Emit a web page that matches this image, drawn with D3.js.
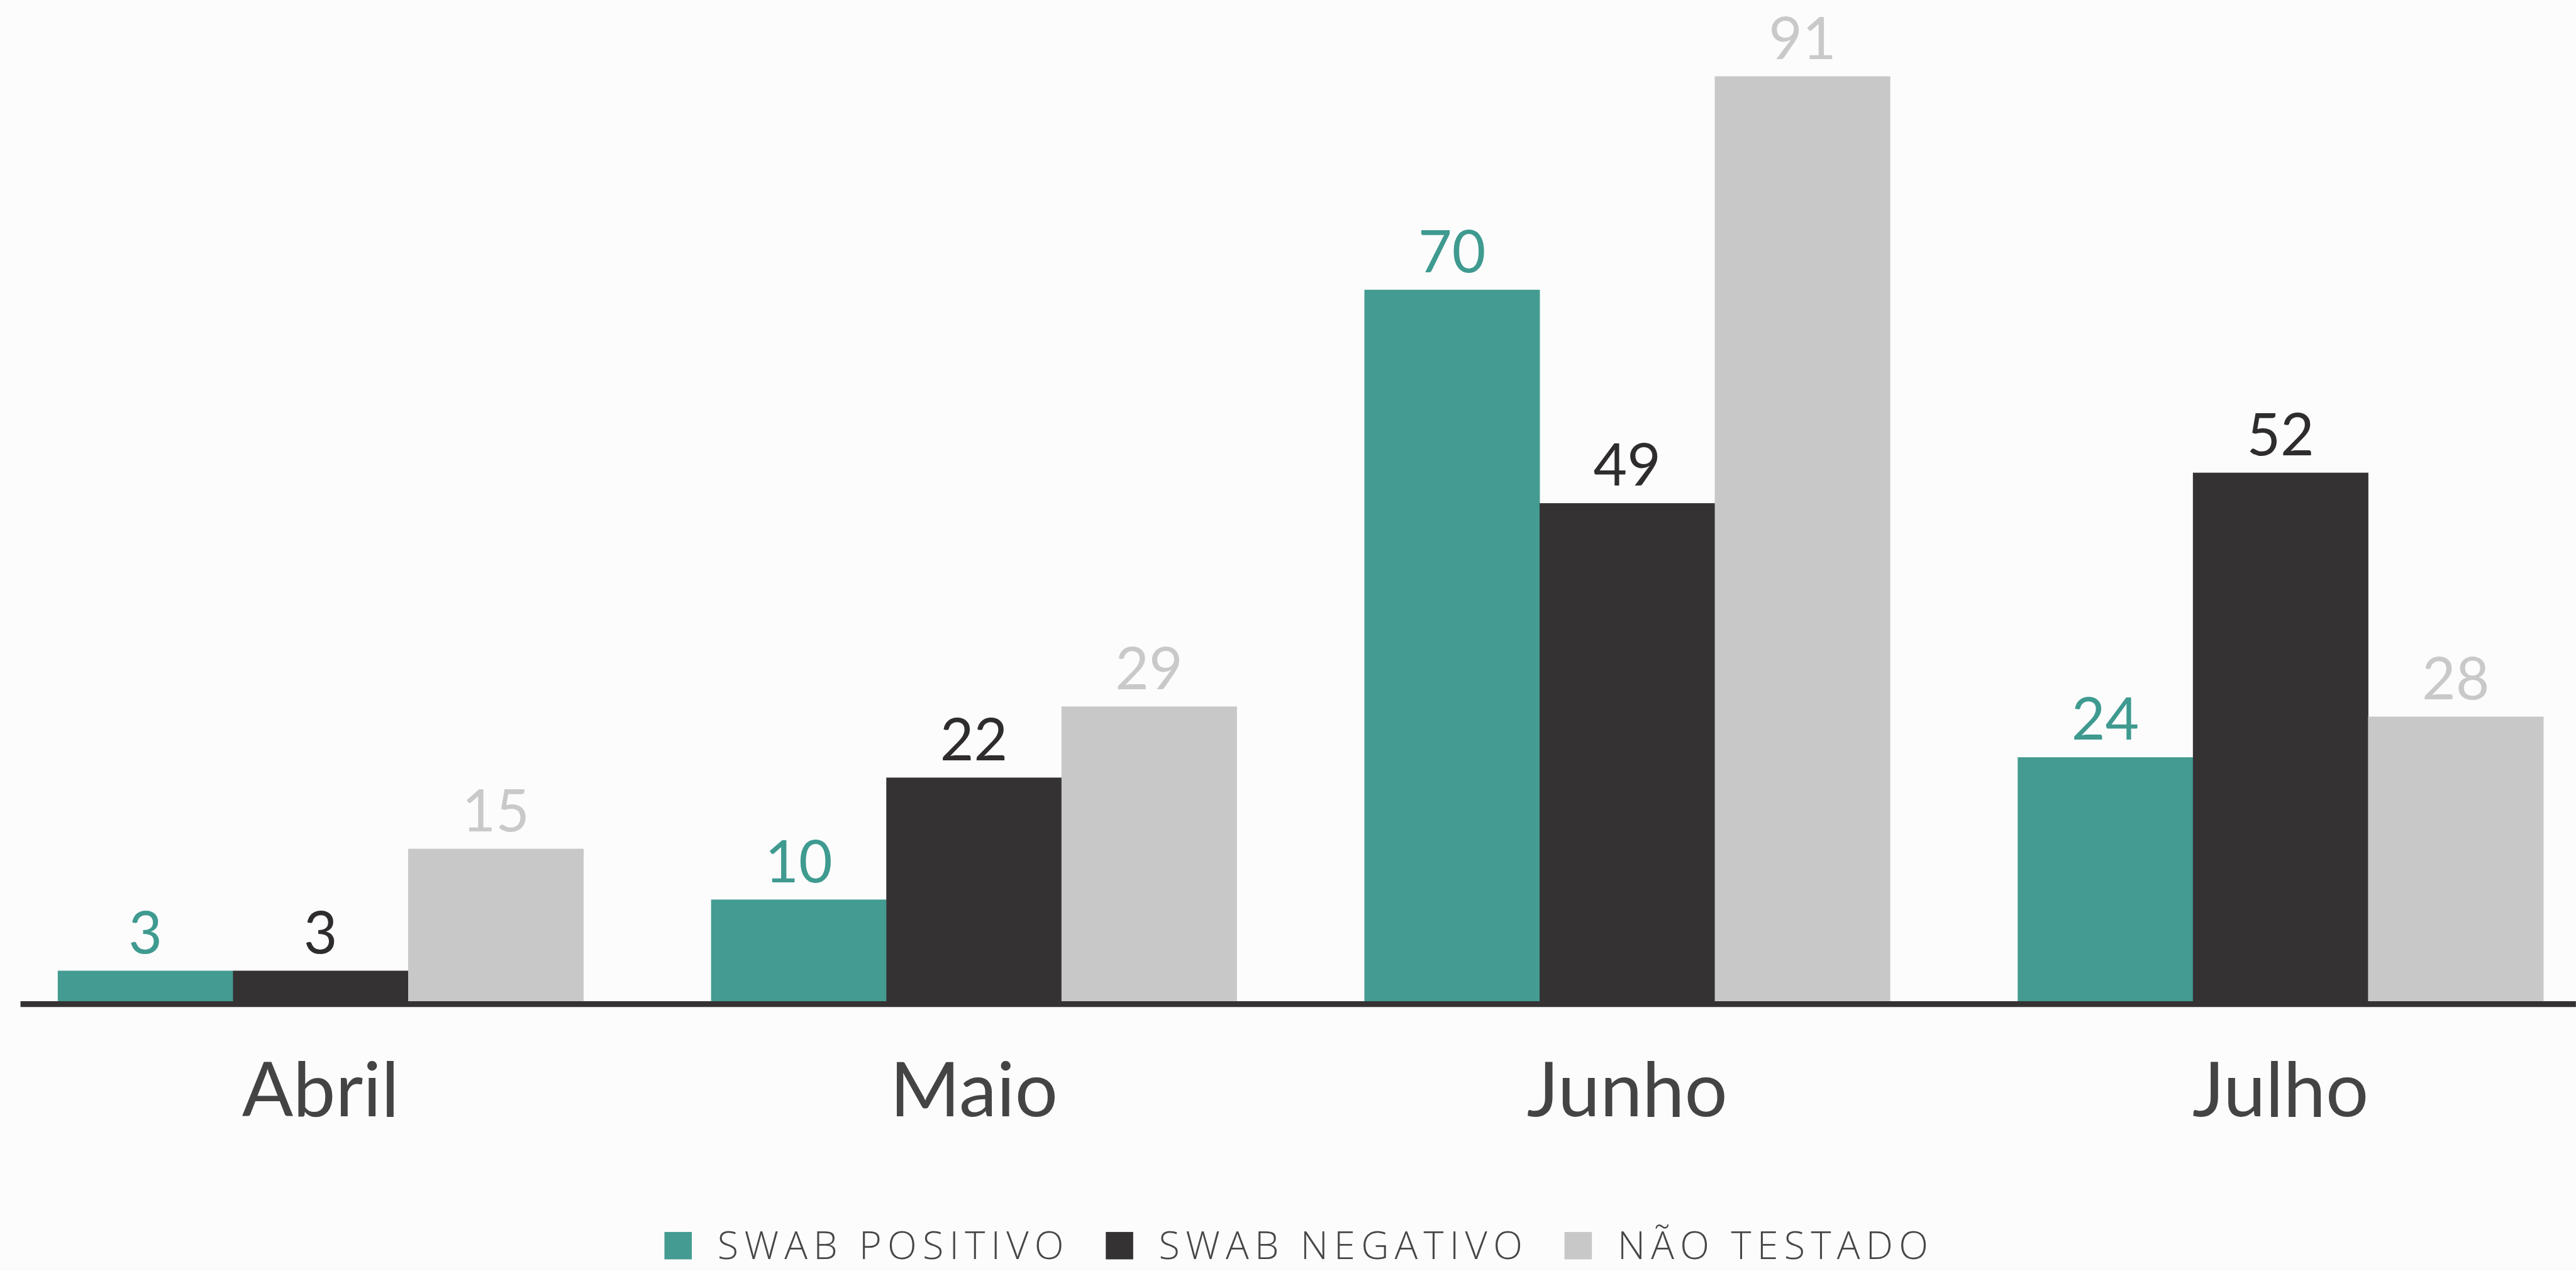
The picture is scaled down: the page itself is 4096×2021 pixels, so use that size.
<html>
<head>
<meta charset="utf-8">
<script src="https://cdn.jsdelivr.net/npm/d3@7"></script>
<style>
  html, body { margin: 0; padding: 0; background: #fcfcfc; overflow: hidden; }
  svg { display: block; }
  .val { font-family: Lato, "Open Sans", sans-serif; font-size: 100px; text-anchor: middle; }
  .month { font-family: Lato, "Open Sans", sans-serif; font-size: 130px; fill: #444; text-anchor: middle; }
  .legend text { font-family: "Open Sans", sans-serif; font-weight: 300; font-size: 66px; fill: #474747; letter-spacing: 10px; }
</style>
</head>
<body>
<script>
// data
var months = ["Abril", "Maio", "Junho", "Julho"];
var seriesNames = ["SWAB POSITIVO", "SWAB NEGATIVO", "NÃO TESTADO"];
var swabPositivo = [3, 10, 70, 24];
var swabNegativo = [3, 22, 49, 52];
var naoTestado = [15, 29, 91, 28];

var barColors = ["#439b91", "#353234", "#c8c8c8"];
var labelColors = ["#3f9a90", "#2f2c2e", "#c9c9c9"];

// drawn in the reference's units, scaled down by the viewBox
var W = 4420, H = 2181;
var baseY = 1718;

var svg = d3.select("body").append("svg")
  .attr("width", 4096)
  .attr("height", 2021)
  .attr("viewBox", "0 0 " + W + " " + H);

svg.append("rect").attr("width", W).attr("height", H).attr("fill", "#fcfcfc");

var seriesValues = [swabPositivo, swabNegativo, naoTestado];
var rows = months.map(function(m, i) {
  return { month: m, values: seriesNames.map(function(s, j) { return { key: s, idx: j, value: seriesValues[j][i] }; }) };
});

var x0 = d3.scaleBand()
  .domain(months)
  .range([99, 4364])
  .paddingInner(0.1955)
  .paddingOuter(0);

var x1 = d3.scaleBand()
  .domain(seriesNames)
  .range([0, x0.bandwidth()]);

var y = d3.scaleLinear()
  .domain([0, d3.max(naoTestado.concat(swabPositivo, swabNegativo))])
  .range([baseY, 131]);

var groups = svg.selectAll("g.month-group")
  .data(rows)
.enter().append("g")
  .attr("class", "month-group")
  .attr("transform", function(d) { return "translate(" + x0(d.month) + ",0)"; });

groups.selectAll("rect")
  .data(function(d) { return d.values; })
.enter().append("rect")
  .attr("x", function(d) { return x1(d.key); })
  .attr("y", function(d) { return y(d.value); })
  .attr("width", x1.bandwidth() + 0.5)
  .attr("height", function(d) { return baseY - y(d.value) + 2; })
  .attr("fill", function(d) { return barColors[d.idx]; });

groups.selectAll("text.val")
  .data(function(d) { return d.values; })
.enter().append("text")
  .attr("class", "val")
  .attr("x", function(d) { return x1(d.key) + x1.bandwidth() / 2; })
  .attr("y", function(d) { return y(d.value) - 30; })
  .attr("fill", function(d) { return labelColors[d.idx]; })
  .text(function(d) { return d.value; });

// baseline
svg.append("line")
  .attr("x1", 35).attr("x2", W)
  .attr("y1", baseY + 5).attr("y2", baseY + 5)
  .attr("stroke", "#353234")
  .attr("stroke-width", 10);

// month labels
svg.selectAll("text.month")
  .data(months)
.enter().append("text")
  .attr("class", "month")
  .attr("x", function(d) { return x0(d) + x0.bandwidth() / 2; })
  .attr("y", 1915)
  .text(function(d) { return d; });

// legend
var legend = svg.append("g").attr("class", "legend");
var lx = 1140, sq = 47, legY = 2160;
seriesNames.forEach(function(name, i) {
  legend.append("rect")
    .attr("x", lx).attr("y", legY - 46)
    .attr("width", sq).attr("height", sq)
    .attr("fill", barColors[i]);
  var t = legend.append("text")
    .attr("x", lx + sq + 44)
    .attr("y", legY)
    .text(name);
  lx = lx + sq + 44 + t.node().getComputedTextLength() + 62;
});
</script>
</body>
</html>
